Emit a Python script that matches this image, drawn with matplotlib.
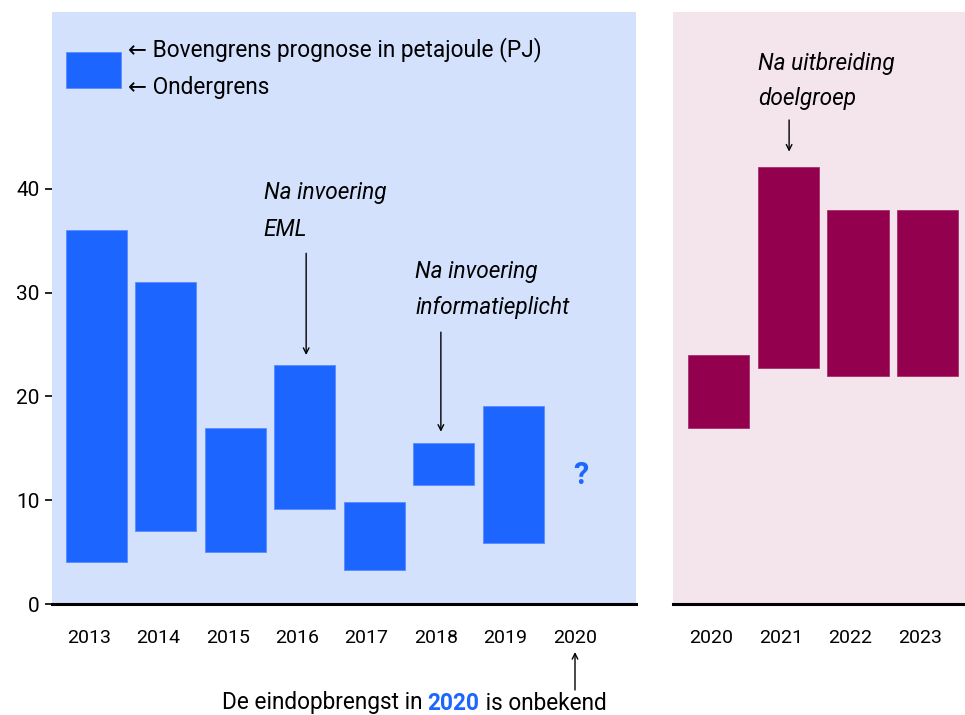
import matplotlib
matplotlib.use("Agg")
import matplotlib.pyplot as plt
from matplotlib.patches import Rectangle

plt.rcParams['font.family'] = ['Roboto', 'DejaVu Sans']

# gegevens: bovengrens / ondergrens prognose (PJ)
jaren_oud = ['2013', '2014', '2015', '2016', '2017', '2018', '2019', '2020']
boven_oud = [36, 31, 17, 23, 9.8, 15.5, 19.1]
onder_oud = [4, 7, 5, 9.2, 3.3, 11.5, 5.9]

jaren_nieuw = ['2020', '2021', '2022', '2023']
boven_nieuw = [24, 42.1, 38, 38]
onder_nieuw = [17, 22.7, 22, 22]

blauw = '#1c66ff'
blauw_bg = '#d3e1fd'
paars = '#93004d'
roze_bg = '#f4e4ec'

fig = plt.figure(figsize=(9.65, 7.15), dpi=100)
ax1 = fig.add_axes([52/965, 111/715, 584/965, 592/715])
ax2 = fig.add_axes([673/965, 111/715, 292/965, 592/715])

ymax = 57.06
bw = 0.88
off = 0.11
fs = 16.3

for ax, bg in [(ax1, blauw_bg), (ax2, roze_bg)]:
    ax.set_facecolor(bg)
    ax.set_ylim(0, ymax)
    for s in ['top', 'right', 'left']:
        ax.spines[s].set_visible(False)
    ax.spines['bottom'].set_linewidth(2.2)
    ax.tick_params(axis='x', length=0, labelsize=14, pad=18)

# oude periode
x1 = list(range(len(boven_oud)))
ax1.bar(x1, [b - o for b, o in zip(boven_oud, onder_oud)], bottom=onder_oud,
        width=bw, color=blauw, edgecolor='#5a8cff', linewidth=0.6)
ax1.set_xlim(-0.64, 7.77)
ax1.set_xticks([i - off for i in range(len(jaren_oud))])
ax1.set_xticklabels(jaren_oud)
ax1.set_yticks([0, 10, 20, 30, 40])
ax1.tick_params(axis='y', length=5, width=1.2, labelsize=15, pad=4)
ax1.text(7 - 0.03, 12.4, '?', color=blauw, fontsize=22, fontweight='bold',
         ha='center', va='center')

# nieuwe periode
x2 = list(range(len(boven_nieuw)))
ax2.bar(x2, [b - o for b, o in zip(boven_nieuw, onder_nieuw)], bottom=onder_nieuw,
        width=bw, color=paars, edgecolor='#a8306a', linewidth=0.6)
ax2.set_xlim(-0.66, 3.54)
ax2.set_xticks([i - off for i in range(len(jaren_nieuw))])
ax2.set_xticklabels(jaren_nieuw)
ax2.set_yticks([])

# legenda
ax1.add_patch(Rectangle((-0.44, 49.7), 0.79, 3.5, color=blauw, ec='#5a8cff', lw=0.6))
ax1.text(0.46, 53.4, '\u2190 Bovengrens prognose in petajoule (PJ)', fontsize=fs, va='center')
ax1.text(0.46, 49.8, '\u2190 Ondergrens', fontsize=fs, va='center')

# annotaties
pijl = dict(arrowstyle='->', lw=1, color='black', shrinkA=0, shrinkB=0)
ax1.text(2.41, 39.7, 'Na invoering', fontsize=fs, style='italic', va='center')
ax1.text(2.41, 36.1, 'EML', fontsize=fs, style='italic', va='center')
ax1.annotate('', xy=(3.02, 24.0), xytext=(3.02, 33.8), arrowprops=pijl)

ax1.text(4.59, 32.0, 'Na invoering', fontsize=fs, style='italic', va='center')
ax1.text(4.59, 28.6, 'informatieplicht', fontsize=fs, style='italic', va='center')
ax1.annotate('', xy=(4.96, 16.6), xytext=(4.96, 26.2), arrowprops=pijl)

ax2.text(0.56, 52.1, 'Na uitbreiding', fontsize=fs, style='italic', va='center')
ax2.text(0.56, 48.7, 'doelgroep', fontsize=fs, style='italic', va='center')
ax2.annotate('', xy=(1.01, 43.6), xytext=(1.01, 46.65), arrowprops=pijl)

# onderschrift
ax1.annotate('', xy=(575/965, 63/715), xytext=(575/965, 25/715),
             xycoords='figure fraction', textcoords='figure fraction', arrowprops=pijl)

fig.canvas.draw()
r = fig.canvas.get_renderer()
delen = [('De eindopbrengst in ', 'black', 'normal'),
         ('2020', blauw, 'bold'),
         (' is onbekend', 'black', 'normal')]
tx = []
for s, c, w in delen:
    tx.append(fig.text(0, 12/715, s, color=c, fontweight=w, fontsize=fs, va='center'))
breedtes = [t.get_window_extent(r).width for t in tx]
x = 414 - sum(breedtes) / 2
for t, b in zip(tx, breedtes):
    t.set_x(x / 965)
    x += b

fig.savefig('out.png', dpi=100)
